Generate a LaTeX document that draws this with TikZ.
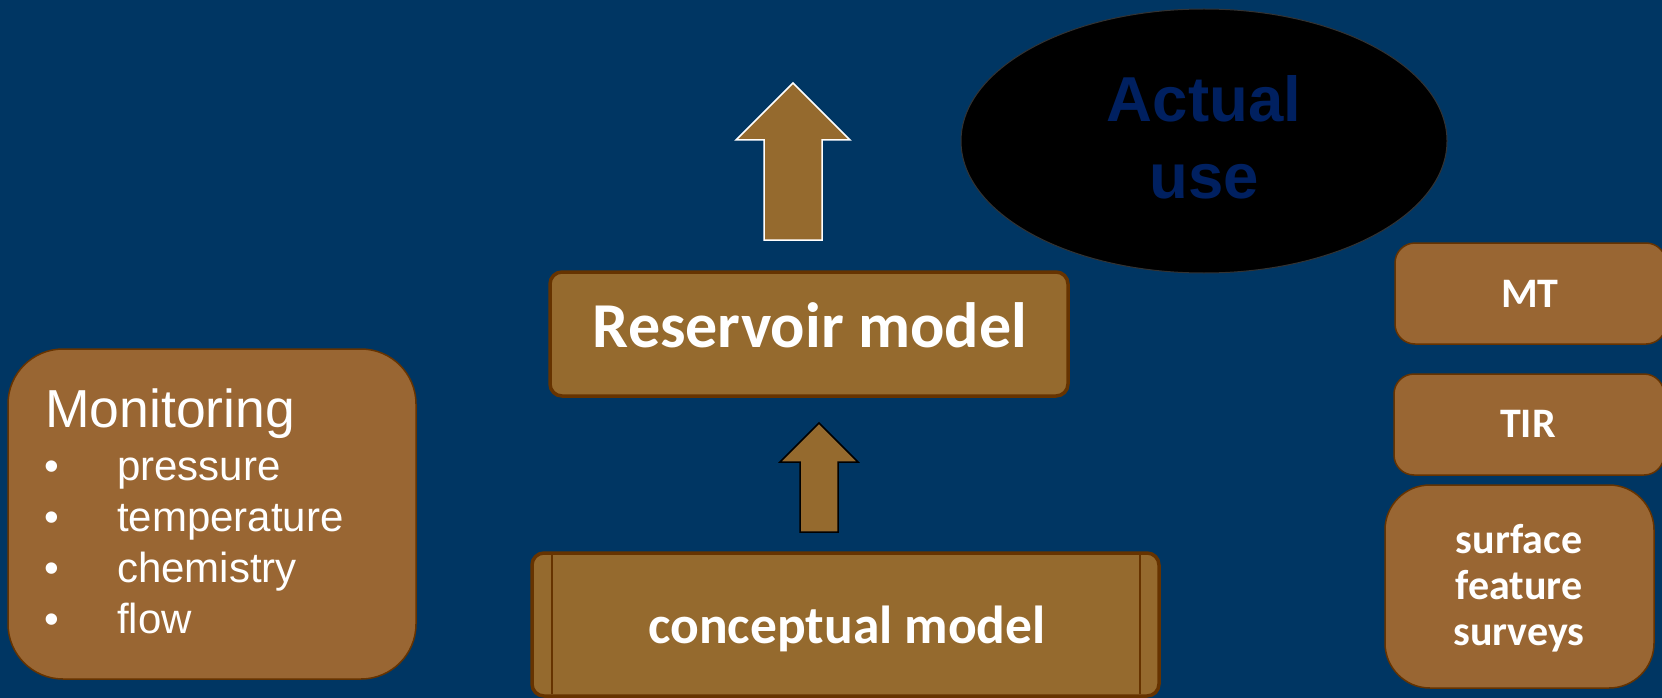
\documentclass[tikz,border=0pt]{standalone}
\usepackage{fontspec}
\setmainfont{Liberation Sans}
\newfontfamily\calibri{Carlito}
\usetikzlibrary{shapes.geometric}
\definecolor{bg}{RGB}{0,54,99}
\definecolor{brownA}{RGB}{149,106,46}
\definecolor{brownB}{RGB}{153,102,51}
\definecolor{brownD}{RGB}{102,51,0}
\definecolor{navytext}{RGB}{0,32,96}
\begin{document}
\begin{tikzpicture}[x=1pt,y=-1pt,
  solidbox/.style={draw=brownD, line width=3.5pt, fill=brownA, rounded corners=12pt, inner sep=0pt},
  softbox/.style={draw=brownD, line width=1.5pt, fill=brownB, inner sep=0pt},
  calitext/.style={text=white, inner sep=0pt, anchor=base},
  arialtext/.style={text=white, inner sep=0pt, anchor=base west, font=\fontsize{42}{50}\selectfont},
  blockarrow/.style={fill=brownA, line width=1.5pt, line join=miter}]
\fill[bg] (0,0) rectangle (1662,698);
\useasboundingbox (0,0) rectangle (1662,698);
\clip (0,0) rectangle (1662,698);

% Big arrow (top)
\draw[blockarrow, draw=white] (793,83) -- (850,140) -- (822,140) -- (822,240) -- (764,240) -- (764,140) -- (736,140) -- cycle;

% Actual use ellipse
\node[ellipse, draw=black!80, line width=1pt, fill=black, minimum width=486pt, minimum height=264pt, inner sep=0pt] (use) at (1204,141) {};
\node[inner sep=0pt, anchor=base, text=navytext, font=\bfseries\fontsize{63.5}{76}\selectfont] (actualtxt) at (1204,122) {Actual};
\node[inner sep=0pt, anchor=base, text=navytext, font=\bfseries\fontsize{63.5}{76}\selectfont] (usetxt) at (1204,198) {use};

% Reservoir model
\node[solidbox, minimum width=518pt, minimum height=124pt] (res) at (809,334) {};
\node[calitext, font=\calibri\bfseries\fontsize{64}{70}\selectfont] (restxt) at (810,347) {Reservoir model};

% Small arrow
\draw[blockarrow, draw=black] (819,423) -- (858,462) -- (838,462) -- (838,532) -- (800,532) -- (800,462) -- (780,462) -- cycle;

% Conceptual model
\node[solidbox, minimum width=627pt, minimum height=143pt] (conc) at (845.5,624.5) {};
\draw[brownD, line width=2pt] (552,555) -- (552,694);
\draw[brownD, line width=2pt] (1140,555) -- (1140,694);
\node[calitext, font=\calibri\bfseries\fontsize{53.5}{60}\selectfont] (conctxt) at (847,643) {conceptual model};

% Monitoring
\node[softbox, rounded corners=55pt, minimum width=408pt, minimum height=330pt] (mon) at (212,514) {};
\node[text=white, inner sep=0pt, anchor=base west, font=\fontsize{53.5}{60}\selectfont] (montxt) at (45,427) {Monitoring};
\foreach \y/\t/\n in {480/pressure/p, 531/temperature/t, 582/chemistry/c, 633/flow/f}{
  \node[arialtext] (b\n) at (44,\y) {\textbullet};
  \node[arialtext] (i\n) at (117,\y) {\t};
}

% Right column
\node[softbox, rounded corners=20pt, minimum width=271pt, minimum height=101pt] (mt) at (1530.5,293.5) {};
\node[calitext, font=\calibri\bfseries\fontsize{42}{46}\selectfont] (mttxt) at (1530,307) {MT};
\node[softbox, rounded corners=20pt, minimum width=270pt, minimum height=101pt] (tir) at (1529,424.5) {};
\node[calitext, font=\calibri\bfseries\fontsize{42}{46}\selectfont] (tirtxt) at (1528,437) {TIR};
\node[softbox, rounded corners=45pt, minimum width=269pt, minimum height=203pt] (surv) at (1519.5,586.5) {};
\node[calitext, font=\calibri\bfseries\fontsize{42}{46}\selectfont] (s1) at (1519,553) {surface};
\node[calitext, font=\calibri\bfseries\fontsize{42}{46}\selectfont] (s2) at (1519,599) {feature};
\node[calitext, font=\calibri\bfseries\fontsize{42}{46}\selectfont] (s3) at (1519,645) {surveys};
\end{tikzpicture}
\end{document}
